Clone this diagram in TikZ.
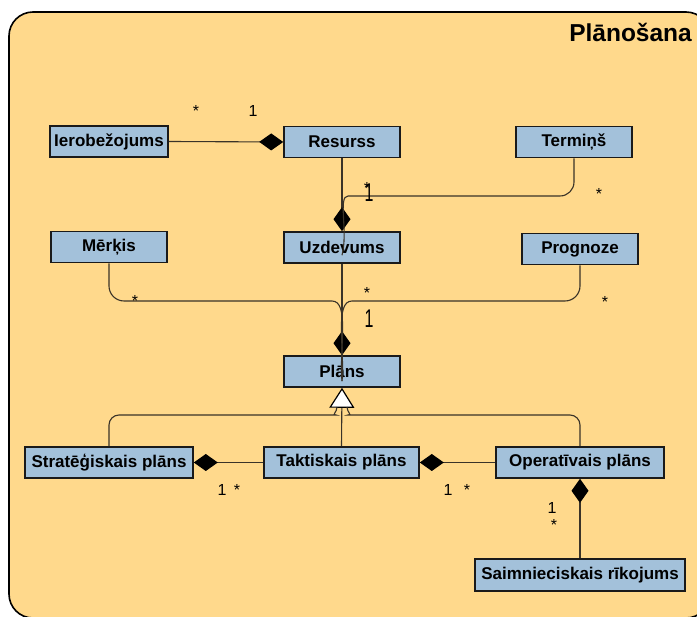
\documentclass[tikz,border=0pt]{standalone}
\usepackage{fontspec}
\setmainfont{Liberation Sans}
\usetikzlibrary{arrows.meta}
\definecolor{pkgbg}{HTML}{FFD98C}
\definecolor{clsfill}{HTML}{A3C1DA}
\definecolor{clsline}{HTML}{1A1A1A}
\definecolor{linkcol}{HTML}{3A3328}
\tikzset{
  cls/.style={draw=clsline, fill=clsfill, line width=1.6pt, inner sep=0pt,
    minimum height=31pt, font=\fontsize{17}{20}\selectfont\bfseries},
  link/.style={draw=linkcol, line width=1.1pt},
  comp/.style={link, -{Diamond[length=24pt,width=17pt,color=black,fill=black]}},
  gen/.style={link, -{Triangle[length=20pt,width=25pt,color=black,fill=white,line width=1.2pt]}},
  mult/.style={inner sep=0pt, anchor=base, font=\fontsize{16}{18}\selectfont},
}
\newcommand{\tallone}{\scalebox{1}[1.6]{1}}
\begin{document}
\begin{tikzpicture}[x=1pt,y=-1pt]
\useasboundingbox (0,0) rectangle (697,617);
\clip (0,0) rectangle (697,617);

% package frame
\draw[fill=pkgbg, line width=1.6pt, rounded corners=24pt] (9,12) rectangle (710,618);
\node[anchor=base east, inner sep=0pt, font=\fontsize{24.5}{28}\selectfont\bfseries] (pkgtitle) at (692,42) {Plānošana};

% classes
\node[cls, minimum width=118pt] (ierob) at (109,141.5) {Ierobežojums};
\node[cls, minimum width=116pt] (resurss) at (342,142) {Resurss};
\node[cls, minimum width=116pt] (termins) at (574,142) {Termiņš};
\node[cls, minimum width=116pt] (merkis) at (109,247) {Mērķis};
\node[cls, minimum width=116pt] (uzdevums) at (342,247.5) {Uzdevums};
\node[cls, minimum width=116pt] (prognoze) at (580,249) {Prognoze};
\node[cls, minimum width=116pt] (plans) at (342,371.5) {Plāns};
\node[cls, minimum width=168pt] (strat) at (109,462.5) {Stratēģiskais plāns};
\node[cls, minimum width=155pt] (takt) at (341.5,462.5) {Taktiskais plāns};
\node[cls, minimum width=168pt] (oper) at (580,462.5) {Operatīvais plāns};
\node[cls, minimum width=210pt, minimum height=32pt] (saimn) at (580,575) {Saimnieciskais rīkojums};

% tips of the composition diamonds used as joins
\coordinate (uzTop) at ([yshift=-24pt]uzdevums.north);
\coordinate (plTop) at ([yshift=-26pt]plans.north);

% compositions
\draw[comp] (ierob.east) -- (resurss.west);
\draw[comp] (resurss.south) -- (uzdevums.north);
\draw[link] (termins.south) [rounded corners=14pt] -- (termins.south |- 0,196)
  -- (362,196) [sharp corners] to[out=180,in=75] (uzTop);
\draw[comp] (uzdevums.south) -- (plans.north);
\draw[link] (merkis.south) [rounded corners=15pt] -- (merkis.south |- 0,301)
  -- (317,301) [sharp corners] to[out=0,in=95] (plTop);
\draw[link] (prognoze.south) [rounded corners=15pt] -- (prognoze.south |- 0,301)
  -- (367,301) [sharp corners] to[out=180,in=85] (plTop);
\draw[comp] (takt.west) -- (strat.east);
\draw[comp] (oper.west) -- (takt.east);
\draw[comp] (saimn.north) -- (oper.south);

% generalisations
\draw[gen] (takt.north) -- (plans.south);
\draw[link] (strat.north) [rounded corners=10pt] -- (strat.north |- 0,415)
  -- (326,415) [sharp corners] to[out=0,in=-90] (337,407);
\draw[link] (oper.north) [rounded corners=10pt] -- (oper.north |- 0,415)
  -- (358,415) [sharp corners] to[out=180,in=-90] (347,407);

% multiplicities
\node[mult] (m1) at (196,117) {*};
\node[mult] (m2) at (253,117) {1};
\node[mult] (m3) at (367,194) {*};
\node[mult] (m4) at (369,202) {\tallone};
\node[mult] (m5) at (599,200) {*};
\node[mult] (m6) at (135,307) {*};
\node[mult] (m7) at (367,299) {*};
\node[mult] (m8) at (369,328) {\tallone};
\node[mult] (m9) at (605,308) {*};
\node[mult] (m10) at (222,496) {1};
\node[mult] (m11) at (237,496) {*};
\node[mult] (m12) at (448,496) {1};
\node[mult] (m13) at (467,496) {*};
\node[mult] (m14) at (552,514) {1};
\node[mult] (m15) at (554,531) {*};
\end{tikzpicture}
\end{document}
